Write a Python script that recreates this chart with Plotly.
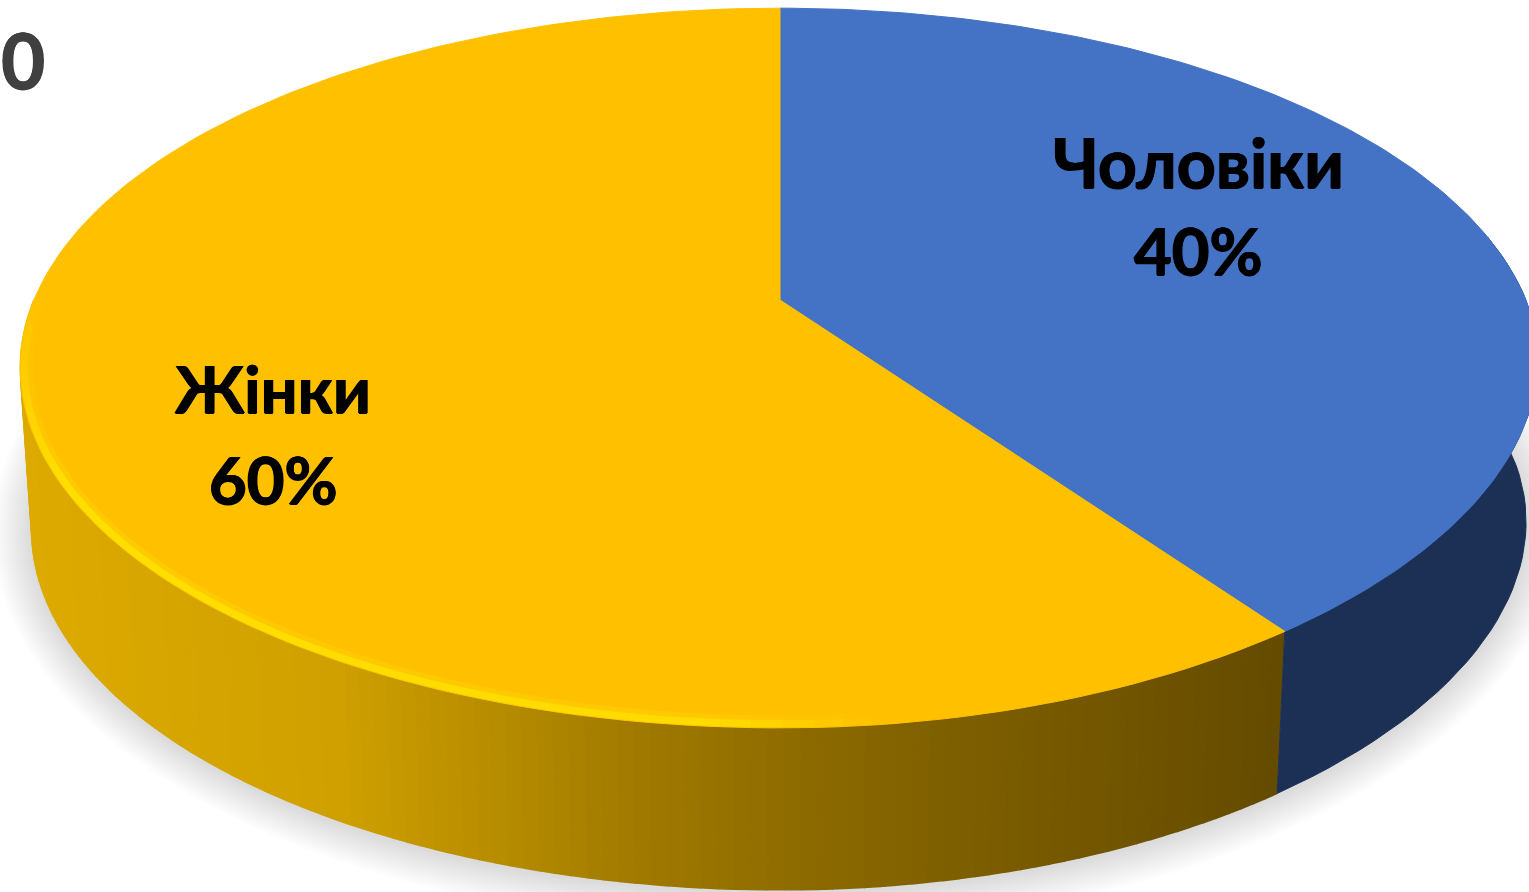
import math
import plotly.graph_objects as go

categories = ["Чоловіки", "Жінки"]
shares = [40, 60]
slice_colors = ["#4472C4", "#FFC000"]
cut_off_title = "50"

# geometry of the tilted disc (screen pixels)
CX, APEX_Y, A, B, K = 780, 300, 746, 347, 0.189
PULL = 30
WALL_DX, WALL_DY = 0.985, 162


def top(a):
    u, v = math.sin(a), math.cos(a)
    s = 1 / (1 + K * v)
    return CX + A * u * s - PULL * max(0, u) * max(0, -v) ** 1.5, APEX_Y - B * v * s


def bottom(a):
    x, y = top(a)
    return CX + WALL_DX * (x - CX), y + WALL_DY


def arc(fn, a0, a1, n):
    pts = [fn(a0 + (a1 - a0) * i / n) for i in range(n + 1)]
    return [p[0] for p in pts], [p[1] for p in pts]


def lerp_hex(stops, t):
    for (t0, c0), (t1, c1) in zip(stops, stops[1:]):
        if t <= t1:
            f = (t - t0) / (t1 - t0)
            break
    else:
        f, c0, c1 = 1, stops[-1][1], stops[-1][1]
    f = max(0, f)
    rgb = [round(int(c0[i:i + 2], 16) * (1 - f) + int(c1[i:i + 2], 16) * f) for i in (1, 3, 5)]
    return "rgb(%d,%d,%d)" % tuple(rgb)


fig = go.Figure()


def poly(xs, ys, color, width=1.5):
    fig.add_trace(go.Scatter(x=xs, y=ys, mode="lines", fill="toself", fillcolor=color,
                             line=dict(color=color, width=width), hoverinfo="skip", showlegend=False))


# soft shadow below the disc
LAYERS = 18
for i in range(LAYERS):
    g = (LAYERS - i) * 2.2
    xs, ys = arc(bottom, 0, 2 * math.pi, 120)
    xs = [CX + (x - CX) * (1 + g / 760) for x in xs]
    ys = [537 + (y - 537) * (1 + g / 370) + 2 for y in ys]
    fig.add_trace(go.Scatter(x=xs, y=ys, mode="lines", fill="toself",
                             fillcolor="rgba(110,112,130,0.014)", line=dict(width=0),
                             hoverinfo="skip", showlegend=False))

# angles of the slices
total = sum(shares)
edges = [0]
for s in shares:
    edges.append(edges[-1] + s / total * 2 * math.pi)

# wall
wall_stops = [(0.0, "#DDAA00"), (0.25, "#CFA000"), (0.5, "#9E7800"), (0.72, "#806000"), (1.0, "#654B00")]
a0, a1 = edges[1], 3 * math.pi / 2
N = 120
for i in range(N):
    b1 = a1 - (a1 - a0) * i / N
    b0 = a1 - (a1 - a0) * (i + 1) / N
    x1, y1 = arc(top, b0, b1, 3)
    x2, y2 = arc(bottom, b1, b0, 3)
    t = (sum(x1) / 4 - 20) / 1265
    poly(x1 + x2, y1 + y2, lerp_hex(wall_stops, max(0, min(1, t))))
x1, y1 = arc(top, 0.44 * math.pi, edges[1], 40)
x2, y2 = arc(bottom, edges[1], 0.44 * math.pi, 40)
poly(x1 + x2, y1 + y2, "#1C2F54", 1)

# top faces
for cat, color, e0, e1 in zip(categories, slice_colors, edges, edges[1:]):
    xs, ys = arc(top, e0, e1, 160)
    fig.add_trace(go.Scatter(x=[CX] + xs + [CX], y=[APEX_Y] + ys + [APEX_Y], mode="lines", fill="toself",
                             fillcolor=color, line=dict(color=color, width=1),
                             name=cat, hoverinfo="skip", showlegend=False))

# bright bevel on the rim
rim_stops = [(0.0, "#FFC000"), (0.12, "#FFDE00"), (0.7, "#FFE200"), (1.0, "#FFC400")]
h0, h1 = math.pi - 0.14, 1.5 * math.pi
M = 50
for width, inset, alpha in ((13, 6, 0.3), (7, 4, 0.9)):
    for i in range(M):
        b0 = h0 + (h1 - h0) * i / M
        b1 = h0 + (h1 - h0) * (i + 1) / M
        xs, ys = arc(top, b0, b1, 2)
        xs = [CX + (x - CX) * (1 - inset / 760) for x in xs]
        ys = [APEX_Y + (y - APEX_Y) * (1 - inset / 428) for y in ys]
        fig.add_trace(go.Scatter(x=xs, y=ys, mode="lines", opacity=alpha,
                                 line=dict(color=lerp_hex(rim_stops, i / (M - 1)), width=width),
                                 hoverinfo="skip", showlegend=False))

FONT = "Lato"
labels = [(1198, 161, categories[0], 68), (1198, 250, f"{shares[0]}%", 65),
          (273, 388, categories[1], 65), (273, 479, f"{shares[1]}%", 65)]
BOLDER = "0.7px 0 0 {c}, -0.7px 0 0 {c}, 0 0.5px 0 {c}, 0 -0.5px 0 {c}"
anns = [dict(x=x, y=y, text=f"<b>{t}</b>", showarrow=False, xref="x", yref="y",
             font=dict(family=FONT, size=fs, color="#000000", shadow=BOLDER.format(c="#000000")))
        for x, y, t, fs in labels]
anns.append(dict(x=47, y=59, text=f"<b>{cut_off_title}</b>", showarrow=False, xref="x", yref="y",
                 xanchor="right", font=dict(family=FONT, size=76, color="#404040",
                                            shadow=BOLDER.format(c="#404040"))))

fig.update_layout(width=1529, height=892, margin=dict(l=0, r=0, t=0, b=0),
                  paper_bgcolor="white", plot_bgcolor="white", annotations=anns,
                  xaxis=dict(range=[0, 1529], visible=False, fixedrange=True),
                  yaxis=dict(range=[892, 0], visible=False, fixedrange=True),
                  showlegend=False)
fig.write_html("out.html", config=dict(displayModeBar=False),
               post_script="document.body.style.margin='0';document.body.style.overflow='hidden';")
